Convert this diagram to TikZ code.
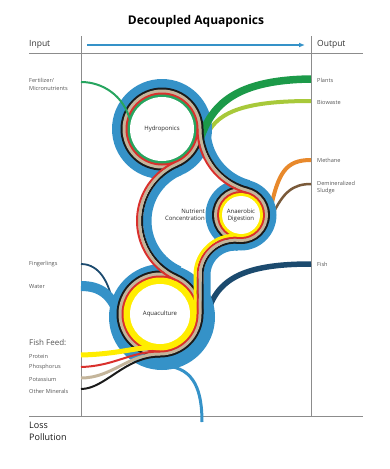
\documentclass[tikz,border=0pt]{standalone}
\usepackage{fontspec}
\setmainfont{Open Sans}
\usetikzlibrary{arrows.meta}
\definecolor{rblue}{HTML}{3592C8}
\definecolor{rtan}{HTML}{C4B59B}
\definecolor{rred}{HTML}{D9302C}
\definecolor{rblack}{HTML}{1A1A1A}
\definecolor{rgreen}{HTML}{27A55F}
\definecolor{rdgreen}{HTML}{1C9A49}
\definecolor{rlgreen}{HTML}{A8C93A}
\definecolor{ryellow}{HTML}{FFED00}
\definecolor{rorange}{HTML}{E8892C}
\definecolor{rbrown}{HTML}{7A5A3A}
\definecolor{rnavy}{HTML}{1B4A6E}
\definecolor{rgray}{HTML}{8C8C8C}
\definecolor{rtext}{HTML}{555555}
\newcommand{\bandarc}[6]{\draw[#6] plot[domain=#4:#5,samples=60] ({#1+#3*cos(\x)},{#2+#3*sin(\x)});}
\begin{document}
\begin{tikzpicture}[x=1pt,y=-1pt,
  frame/.style={draw=rgray,line width=0.9pt},
  lbl/.style={anchor=west,inner sep=0pt,text=rtext,font=\fontsize{5.6}{6.5}\selectfont},
  head/.style={anchor=west,inner sep=0pt,text=black!80,font=\fontsize{8.5}{10}\selectfont},
  ringlbl/.style={inner sep=0pt,text=black!85,font=\fontsize{6}{7}\selectfont,align=center},
  sblue/.style={draw=rblue,line width=#1},
  sblack/.style={draw=rblack,line width=2pt},
  stan/.style={draw=rtan,line width=3pt},
  sred/.style={draw=rred,line width=2pt},
  syellow/.style={draw=ryellow,line width=3pt}]
\useasboundingbox (0,0) rectangle (390,469);
% frame
\draw[frame] (29,53) -- (363,53);
\draw[frame] (29,416) -- (363,416);
\draw[frame] (81,36) -- (81,416);
\draw[frame] (311,36) -- (311,416);
\coordinate (arrS) at (87,45);
\coordinate (arrE) at (305,45);
\draw[rblue,line width=1.5pt,-{Latex[length=6pt,width=5pt]}] (arrS) -- (arrE);
% layer 0: flows emerging from under the blue
\draw[rlgreen,line width=4pt] (207,135) .. controls (218,110) and (250,101) .. (311,101);
\draw[rorange,line width=4pt] (270,212) .. controls (278,172) and (286,160) .. (311,160);
\draw[rbrown,line width=2.5pt] (272,216) .. controls (283,192) and (293,184) .. (311,184);
\draw[rnavy,line width=5.5pt] (311,264) .. controls (250,264) and (218,276) .. (208,312);
\draw[rnavy,line width=1.8pt] (81,264) .. controls (100,264) and (110,284) .. (113,306);
% layer 1: blue
\fill[rblue] (162,129) circle[radius=50pt];
\fill[rblue] (241,215) circle[radius=35.5pt];
\fill[rblue] (162,317) circle[radius=53pt];
\bandarc{263.4}{129}{56.4}{104.6}{180}{sblue=7pt}
\bandarc{201.5}{220.85}{54.22}{114}{246.7}{sblue=8.5pt}
\draw[sblue=7pt] (207,314) -- plot[domain=180:275.7,samples=60] ({235+28*cos(\x)},{275.2+28*sin(\x)});
\draw[rblue,line width=10pt] (81,286) .. controls (100,286) and (112,294) .. (120,318);
\draw[rblue,line width=3pt] (166,366) .. controls (195,368) and (202,392) .. (202,422);
% layer 2: plants band
\draw[rdgreen,line width=7.5pt] (199,142) .. controls (210,110) and (228,80) .. (311,79);
% layer 3: rings
\fill[rblack] (162,129) circle[radius=41.5pt];
\fill[rtan] (162,129) circle[radius=39.5pt];
\fill[rred] (162,129) circle[radius=36.5pt];
\fill[rgreen] (162,129) circle[radius=34.5pt];
\fill[white] (162,129) circle[radius=32pt];
\fill[rblack] (241,215) circle[radius=29pt];
\fill[rtan] (241,215) circle[radius=27pt];
\fill[rred] (241,215) circle[radius=24pt];
\fill[ryellow] (241,215) circle[radius=22pt];
\fill[white] (241,215) circle[radius=19pt];
\fill[rblack] (160,314) circle[radius=43.5pt];
\fill[rtan] (160,314) circle[radius=41.5pt];
\fill[rred] (160,314) circle[radius=38.5pt];
\fill[ryellow] (160,314) circle[radius=36.5pt];
\fill[white] (160,314) circle[radius=30pt];
% layer 4: connector stripes
\bandarc{263.4}{129}{60.9}{104.6}{180}{sblack}
\bandarc{263.4}{129}{63.4}{104.6}{180}{stan}
\bandarc{263.4}{129}{65.9}{104.6}{180}{sred}
\bandarc{201.5}{220.85}{59.47}{114}{246.7}{sblack}
\bandarc{201.5}{220.85}{61.97}{114}{246.7}{stan}
\bandarc{201.5}{220.85}{64.47}{114}{246.7}{sred}
\draw[sblack] (202.5,314) -- plot[domain=180:275.7,samples=60] ({235+32.5*cos(\x)},{275.2+32.5*sin(\x)});
\draw[stan] (200,314) -- plot[domain=180:275.7,samples=60] ({235+35*cos(\x)},{275.2+35*sin(\x)});
\draw[sred] (197.5,314) -- plot[domain=180:275.7,samples=60] ({235+37.5*cos(\x)},{275.2+37.5*sin(\x)});
\draw[syellow] (195,314) -- plot[domain=180:275.7,samples=60] ({235+40*cos(\x)},{275.2+40*sin(\x)});
% layer 5: inputs on top
\draw[rgreen,line width=2pt] (81,82) .. controls (103,82) and (124,96) .. (130.1,120.5);
\draw[rblack,line width=2pt] (81,389) .. controls (105,389) and (125,356.5) .. (160,356.5);
\draw[rtan,line width=3pt] (81,378) .. controls (112,378) and (128,354) .. (160,354);
\draw[rred,line width=2pt] (81,367) .. controls (115,366) and (130,351.5) .. (160,351.5);
\draw[ryellow,line width=5pt] (81,355) .. controls (120,354) and (135,347) .. (160,347);
% text
\node[font=\bfseries\fontsize{12}{14}\selectfont] (title) at (196,21) {Decoupled Aquaponics};
\node[head] (input) at (29,44) {Input};
\node[head] (output) at (317,44) {Output};
\node[lbl] (fert) at (29,80) {Fertilizer/};
\node[lbl] (micro) at (29,88) {Micronutrients};
\node[lbl] (fing) at (29,264) {Fingerlings};
\node[lbl] (water) at (29,287) {Water};
\node[lbl,font=\fontsize{8}{9}\selectfont] (feed) at (29,343) {Fish Feed:};
\node[lbl] (prot) at (29,356) {Protein};
\node[lbl] (phos) at (29,367) {Phosphorus};
\node[lbl] (pota) at (29,379) {Potassium};
\node[lbl] (othm) at (29,391) {Other Minerals};
\node[head,text=black!90,font=\fontsize{9}{10}\selectfont] (loss) at (29,425) {Loss};
\node[head,text=black!90,font=\fontsize{9}{10}\selectfont] (poll) at (29,437) {Pollution};
\node[lbl] (plants) at (317,80) {Plants};
\node[lbl] (bio) at (317,102) {Biowaste};
\node[lbl] (meth) at (317,160) {Methane};
\node[lbl] (demin) at (317,183) {Demineralized};
\node[lbl] (sludge) at (317,191) {Sludge};
\node[lbl] (fish) at (317,264) {Fish};
\node[ringlbl] (hydro) at (162,129) {Hydroponics};
\node[ringlbl] (anaer) at (241,215) {Anaerobic\\Digestion};
\node[ringlbl] (aqua) at (160,314) {Aquaculture};
\node[ringlbl,anchor=east,align=right] (nutr) at (205,215) {Nutrient\\Concentration};
\end{tikzpicture}
\end{document}
